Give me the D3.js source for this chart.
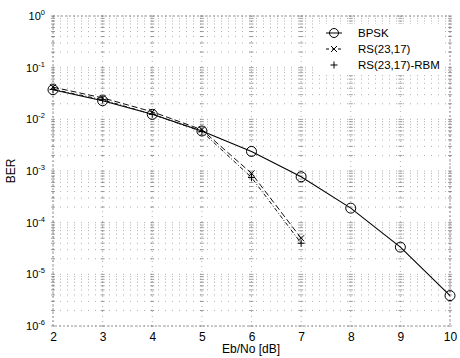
<!DOCTYPE html>
<html><head><meta charset="utf-8">
<script src="https://cdn.jsdelivr.net/npm/d3@7"></script>
<style>body{margin:0;background:#fff}svg{display:block;font-family:"Liberation Sans",Arial,sans-serif}</style>
</head><body><svg id="c" width="460" height="358"></svg>
<script>
const ebno = [2,3,4,5,6,7,8,9,10];
const bpsk = [0.0375,0.0229,0.0125,0.00595,0.00239,0.000773,0.000191,0.0000336,0.00000387];
const rsEbno = [2,3,4,5,6,7];
const rs = [0.042,0.026,0.014,0.0063,0.0009,0.00005];
const rsRbm = [0.038,0.024,0.0125,0.0058,0.00075,0.00004];
const xTicks = [2,3,4,5,6,7,8,9,10];
const yExps = [0,-1,-2,-3,-4,-5,-6];
const legendLabels = ["BPSK","RS(23,17)","RS(23,17)-RBM"];

const svg = d3.select("#c");
const L=53,R=450,T=16,B=326;
const x = d3.scaleLinear().domain([2,10]).range([L,R]);
const y = d3.scaleLog().domain([1e-6,1]).range([B,T]);

const g = svg.append("g");
const minor=[];
for(let e=-6;e<0;e++) for(let m=1;m<10;m++) minor.push(m*Math.pow(10,e));
minor.push(1);
g.selectAll(".hy").data(minor).join("line")
  .attr("x1",L).attr("x2",R).attr("y1",d=>y(d)).attr("y2",d=>y(d))
  .attr("stroke","#999").attr("stroke-width",0.8).attr("stroke-dasharray","1,6");
g.selectAll(".vx").data(xTicks).join("line")
  .attr("y1",T).attr("y2",B).attr("x1",d=>x(d)).attr("x2",d=>x(d))
  .attr("stroke","#999").attr("stroke-width",0.8).attr("stroke-dasharray","1,4");
// small crosses at grid intersections (scan look)
const cross=[];
xTicks.forEach(t=>minor.forEach(m=>cross.push([t,m])));
g.selectAll(".cr").data(cross).join("line")
  .attr("x1",d=>x(d[0])-2).attr("x2",d=>x(d[0])+2).attr("y1",d=>y(d[1])).attr("y2",d=>y(d[1]))
  .attr("stroke","#888").attr("stroke-width",0.8);
g.append("rect").attr("x",L).attr("y",T).attr("width",R-L).attr("height",B-T)
  .attr("fill","none").attr("stroke","#777").attr("stroke-width",0.8).attr("stroke-dasharray","2,2");

const xa = svg.append("g").attr("transform",`translate(0,${B})`)
  .call(d3.axisBottom(x).tickValues(xTicks).tickSize(0).tickPadding(6).tickFormat(d3.format("d")));
xa.select(".domain").remove();
xa.selectAll("text").attr("font-size",12).attr("fill","#000").attr("font-family","Liberation Sans, Arial");

const ya = svg.append("g").attr("transform",`translate(${L},0)`)
  .call(d3.axisLeft(y).tickValues(yExps.map(e=>Math.pow(10,e))).tickSize(0).tickPadding(8).tickFormat(()=>""));
ya.select(".domain").remove();
ya.selectAll(".tick text").each(function(d){
  const t=d3.select(this).attr("font-size",11).attr("fill","#000").attr("font-family","Liberation Sans, Arial");
  t.append("tspan").text("10");
  t.append("tspan").attr("dy",-5).attr("font-size",7.5).text(String(Math.round(Math.log10(d))));
});

const line = (xs)=>d3.line().x((d,i)=>x(xs[i])).y(d=>y(d));
svg.append("path").datum(bpsk).attr("d",line(ebno)).attr("fill","none").attr("stroke","#000").attr("stroke-width",1.1);
svg.append("path").datum(rs).attr("d",line(rsEbno)).attr("fill","none").attr("stroke","#111").attr("stroke-width",1).attr("stroke-dasharray","6,3");
svg.append("path").datum(rsRbm).attr("d",line(rsEbno)).attr("fill","none").attr("stroke","#111").attr("stroke-width",1).attr("stroke-dasharray","4,2,1,2");

svg.selectAll(".cb").data(bpsk).join("circle")
  .attr("cx",(d,i)=>x(ebno[i])).attr("cy",d=>y(d)).attr("r",5)
  .attr("fill","none").attr("stroke","#000").attr("stroke-width",1);
const xm = (sel,xs,data,sz)=>sel.selectAll(null).data(data).join("path")
  .attr("d",(d,i)=>{const px=x(xs[i]),py=y(d);return `M${px-sz},${py-sz}L${px+sz},${py+sz}M${px-sz},${py+sz}L${px+sz},${py-sz}`;})
  .attr("stroke","#000").attr("stroke-width",1);
const pm = (sel,xs,data,sz)=>sel.selectAll(null).data(data).join("path")
  .attr("d",(d,i)=>{const px=x(xs[i]),py=y(d);return `M${px-sz},${py}L${px+sz},${py}M${px},${py-sz}L${px},${py+sz}`;})
  .attr("stroke","#000").attr("stroke-width",1);
xm(svg.append("g"),rsEbno,rs,3);
pm(svg.append("g"),rsEbno,rsRbm,3.5);

const lg = svg.append("g");
const ly=[33,49,65], mx=334, tx=358;
lg.append("rect").attr("x",318).attr("y",24).attr("width",126).attr("height",50).attr("fill","#fff");
lg.append("circle").attr("cx",mx).attr("cy",ly[0]).attr("r",4.5).attr("fill","none").attr("stroke","#000");
lg.append("line").attr("x1",mx-8).attr("x2",mx+8).attr("y1",ly[0]).attr("y2",ly[0]).attr("stroke","#000");
lg.append("line").attr("x1",mx-8).attr("x2",mx+8).attr("y1",ly[1]).attr("y2",ly[1]).attr("stroke","#000").attr("stroke-dasharray","3,3");
lg.append("path").attr("d",`M${mx-3},${ly[1]-3}L${mx+3},${ly[1]+3}M${mx-3},${ly[1]+3}L${mx+3},${ly[1]-3}`).attr("stroke","#000");
lg.append("path").attr("d",`M${mx-3.5},${ly[2]}L${mx+3.5},${ly[2]}M${mx},${ly[2]-3.5}L${mx},${ly[2]+3.5}`).attr("stroke","#000");
lg.selectAll(".lt").data(legendLabels).join("text")
  .attr("x",tx).attr("y",(d,i)=>ly[i]+4).attr("font-size",11.5).attr("fill","#000").text(d=>d);

svg.append("text").attr("x",251).attr("y",353).attr("text-anchor","middle").attr("font-size",12).text("Eb/No [dB]");
svg.append("text").attr("transform","translate(15,171) rotate(-90)").attr("text-anchor","middle").attr("font-size",12).text("BER");
</script></body></html>
